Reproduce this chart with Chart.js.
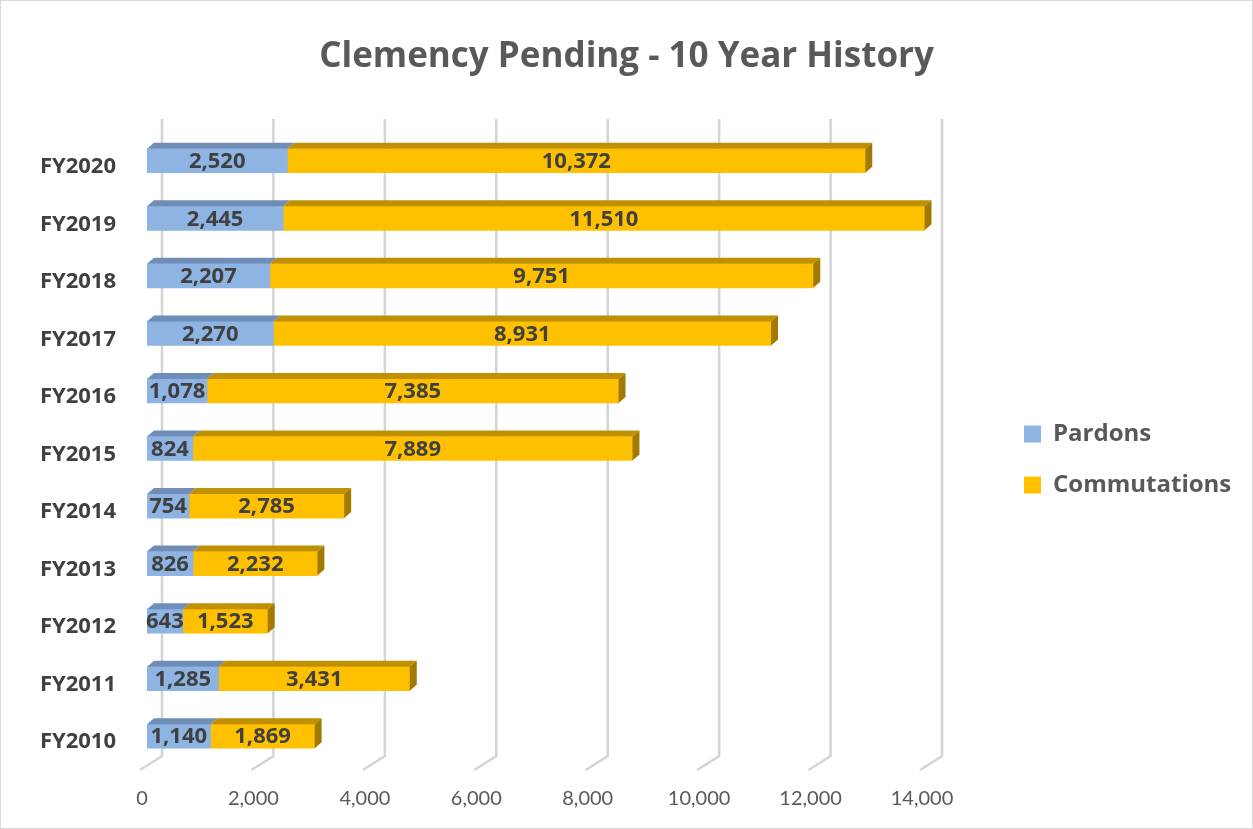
<!DOCTYPE html>
<html>
<head>
<meta charset="utf-8">
<title>Clemency Pending - 10 Year History</title>
<script src="https://cdn.jsdelivr.net/npm/chart.js@4.4.1/dist/chart.umd.min.js"></script>
<style>
  html, body { margin: 0; padding: 0; background: #fff; }
  #wrap { width: 1253px; height: 829px; box-sizing: border-box; border: 1px solid #d9d9d9; }
</style>
</head>
<body>
<div id="wrap"><canvas id="clemencyChart"></canvas></div>
<script>
// data, oldest year first (axis is reversed so FY2020 sits on top)
const years = ['FY2010', 'FY2011', 'FY2012', 'FY2013', 'FY2014', 'FY2015', 'FY2016', 'FY2017', 'FY2018', 'FY2019', 'FY2020'];
const pardons = [1140, 1285, 643, 826, 754, 824, 1078, 2270, 2207, 2445, 2520];
const commutations = [1869, 3431, 1523, 2232, 2785, 7889, 7385, 8931, 9751, 11510, 10372];
const xTicks = [0, 2000, 4000, 6000, 8000, 10000, 12000, 14000];

const BLUE = '#8db4e2', BLUE_TOP = '#6f8db6';
const GOLD = '#ffc000', GOLD_TOP = '#c09000', GOLD_SIDE = '#a27a00';
const DX = 7, DY = 6;
const BOLD_FONT = '"Open Sans", Lato, sans-serif';

Chart.defaults.font.family = BOLD_FONT;

// back-wall gridlines with a slanted floor line
const wallGrid = {
    id: 'wallGrid',
    beforeDatasetsDraw(chart) {
        const { ctx, chartArea: a, scales: { x } } = chart;
        ctx.save();
        ctx.strokeStyle = '#d4d4d4';
        ctx.lineWidth = 2.5;
        x.ticks.forEach(t => {
            const px = x.getPixelForValue(t.value);
            ctx.beginPath();
            ctx.moveTo(px + 15, a.top - 13);
            ctx.lineTo(px + 15, a.bottom - 9);
            ctx.lineTo(px - 7, a.bottom + 5);
            ctx.stroke();
        });
        ctx.restore();
    }
};

// fake 3d: top face on every segment, side face on the end of the stack
const bars3d = {
    id: 'bars3d',
    afterDatasetsDraw(chart) {
        const ctx = chart.ctx;
        const last = chart.data.datasets.length - 1;
        ctx.save();
        chart.data.datasets.forEach((ds, di) => {
            chart.getDatasetMeta(di).data.forEach(bar => {
                const top = bar.y - bar.height / 2, bottom = bar.y + bar.height / 2;
                ctx.fillStyle = ds.topColor;
                ctx.beginPath();
                ctx.moveTo(bar.base, top);
                ctx.lineTo(bar.x, top);
                ctx.lineTo(bar.x + DX, top - DY);
                ctx.lineTo(bar.base + DX, top - DY);
                ctx.closePath();
                ctx.fill();
                if (di === last) {
                    ctx.fillStyle = GOLD_SIDE;
                    ctx.beginPath();
                    ctx.moveTo(bar.x, top);
                    ctx.lineTo(bar.x + DX, top - DY);
                    ctx.lineTo(bar.x + DX, bottom - DY);
                    ctx.lineTo(bar.x, bottom);
                    ctx.closePath();
                    ctx.fill();
                }
            });
        });
        // value labels in the middle of each segment
        ctx.font = 'bold 22px ' + BOLD_FONT;
        ctx.fillStyle = '#404040';
        ctx.textAlign = 'center';
        ctx.textBaseline = 'middle';
        chart.data.datasets.forEach((ds, di) => {
            chart.getDatasetMeta(di).data.forEach((bar, i) => {
                ctx.fillText(ds.data[i].toLocaleString('en-US'), (bar.x + bar.base) / 2, bar.y + 1);
            });
        });
        ctx.restore();
    }
};

// keep a wide gap between plot and legend
const legendGap = {
    id: 'legendGap',
    beforeInit(chart) {
        const fit = chart.legend.fit;
        chart.legend.fit = function () {
            fit.call(this);
            this.width = 325;
        };
    },
    afterLayout(chart) {
        chart.legend.left += 70;
        chart.legend.top += 45;
        chart.legend.bottom += 45;
    }
};

new Chart(document.getElementById('clemencyChart'), {
    type: 'bar',
    data: {
        labels: years,
        datasets: [
            { label: 'Pardons', data: pardons, backgroundColor: BLUE, topColor: BLUE_TOP },
            { label: 'Commutations', data: commutations, backgroundColor: GOLD, topColor: GOLD_TOP }
        ]
    },
    options: {
        indexAxis: 'y',
        responsive: true,
        maintainAspectRatio: false,
        animation: false,
        datasets: { bar: { barThickness: 24, borderWidth: 0 } },
        layout: { padding: 0 },
        plugins: {
            title: {
                display: true,
                text: 'Clemency Pending - 10 Year History',
                color: '#595959',
                font: { size: 35, weight: 'bold' },
                padding: { top: 35, bottom: 54 }
            },
            legend: {
                position: 'right',
                labels: {
                    boxWidth: 17, boxHeight: 17, padding: 27,
                    color: '#595959',
                    font: { size: 24, weight: 'bold' }
                }
            },
            tooltip: { enabled: false }
        },
        scales: {
            x: {
                stacked: true,
                min: xTicks[0],
                max: xTicks[xTicks.length - 1],
                afterBuildTicks: s => { s.ticks = xTicks.map(v => ({ value: v })); },
                afterFit: s => { s.height = 63; },
                grid: { display: false, drawTicks: false },
                border: { display: false },
                ticks: {
                    padding: 22,
                    labelOffset: -5,
                    color: '#595959',
                    font: { family: 'Lato, sans-serif', size: 20 },
                    callback: v => v.toLocaleString('en-US')
                }
            },
            y: {
                stacked: true,
                reverse: true,
                afterFit: s => { s.width = 146; },
                grid: { display: false, drawTicks: false },
                border: { display: false },
                ticks: {
                    padding: 31,
                    labelOffset: 6,
                    color: '#404040',
                    font: { size: 22, weight: 'bold' }
                }
            }
        }
    },
    plugins: [wallGrid, bars3d, legendGap]
});
</script>
</body>
</html>
